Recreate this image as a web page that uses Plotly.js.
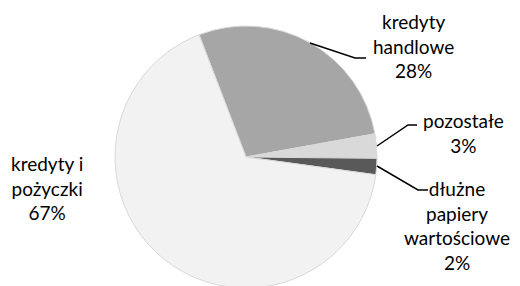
<!DOCTYPE html>
<html><head><meta charset="utf-8">
<script src="https://cdn.plot.ly/plotly-3.0.1.min.js"></script>
<style>html,body{margin:0;padding:0;overflow:hidden;background:#fff}#chart{width:520px;height:300px}</style>
</head><body><div id="chart"></div>
<script>
const categories = ["kredyty handlowe", "pozostałe", "dłużne papiery wartościowe", "kredyty i pożyczki"];
const values = [28, 3, 2, 67];
const labelTexts = ["kredyty<br>handlowe", "pozostałe", "dłużne<br>papiery<br>wartościowe", "kredyty i<br>pożyczki"];
const colors = ["#a6a6a6", "#d9d9d9", "#595959", "#f2f2f2"];

const W = 520, H = 300;
const px = x => x / W, py = y => 1 - y / H;
const total = values.reduce((a, b) => a + b, 0);
const pct = values.map(v => Math.round(v / total * 100) + "%");

const labelPos = [[413, 46], [463, 133], [457, 225], [47, 188]];
const annotations = categories.map((c, i) => ({
  xref: "paper", yref: "paper", x: px(labelPos[i][0]), y: py(labelPos[i][1]),
  xanchor: "center", yanchor: "middle", showarrow: false, align: "center",
  text: labelTexts[i] + "<br>" + pct[i],
  font: {family: "Lato, 'Liberation Sans', sans-serif", size: 19, color: "#000"}
}));

const leaders = [
  [[310, 43], [355, 58], [366, 58]],
  [[377, 146], [408, 125], [417, 125]],
  [[377, 166], [418, 190], [428, 190]]
];
const shapes = leaders.map(pts => ({
  type: "path", xref: "paper", yref: "paper",
  path: "M" + pts.map(p => px(p[0]) + "," + py(p[1])).join(" L"),
  line: {color: "#000", width: 1.5}
}));

const cx = 246, cy = 157, r = 131;
Plotly.newPlot("chart", [{
  type: "pie", labels: categories, values: values, sort: false,
  direction: "clockwise", rotation: -21,
  marker: {colors: colors, line: {color: "#d9d9d9", width: 1}},
  textinfo: "none", hoverinfo: "none",
  domain: {x: [px(cx - r), px(cx + r)], y: [py(cy + r), py(cy - r)]}
}], {
  width: W, height: H, margin: {l: 0, r: 0, t: 0, b: 0},
  showlegend: false, paper_bgcolor: "#fff",
  annotations: annotations, shapes: shapes
}, {staticPlot: true});
</script></body></html>
